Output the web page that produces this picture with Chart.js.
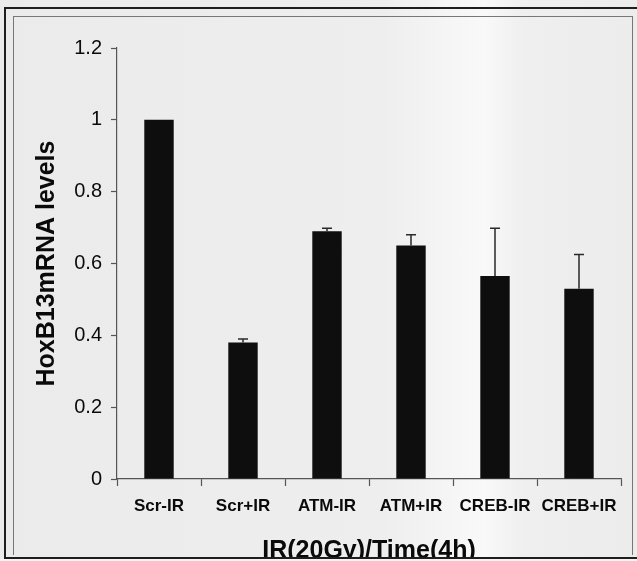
<!DOCTYPE html>
<html>
<head>
<meta charset="utf-8">
<script src="https://cdn.jsdelivr.net/npm/chart.js@4.4.1/dist/chart.umd.min.js"></script>
<style>
  html, body { margin: 0; padding: 0; }
  body {
    width: 637px; height: 561px; overflow: hidden; position: relative;
    background: linear-gradient(90deg, #ebebeb 0%, #eeeeee 60%, #f9f9f9 76%, #efefef 82%, #ececec 100%);
  }
  #wrap { position: absolute; left: 0; top: 0; width: 637px; height: 561px; }
  .frame-outer {
    position: absolute; left: 4px; top: 7px; width: 640px; height: 548px;
    border: 2px solid #1e1e1e; pointer-events: none;
  }
  .frame-inner {
    position: absolute; left: 13px; top: 16px; width: 618px; height: 538px;
    border: 1px solid #777; border-bottom: none; pointer-events: none;
  }
  .bottom-strip {
    position: absolute; left: 0; top: 559px; width: 637px; height: 2px;
    background: #f4f4f4; pointer-events: none;
  }
</style>
</head>
<body>
<div id="wrap"><canvas id="chart" width="637" height="561"></canvas></div>
<div class="frame-inner"></div>
<div class="frame-outer"></div>
<div class="bottom-strip"></div>
<script>
// HoxB13 mRNA levels after IR (20Gy, 4h)
const categories = ['Scr-IR', 'Scr+IR', 'ATM-IR', 'ATM+IR', 'CREB-IR', 'CREB+IR'];
const levels = [1.0, 0.38, 0.69, 0.65, 0.565, 0.53];
const errors = [0, 0.01, 0.008, 0.03, 0.133, 0.095];
const yTicks = [0, 0.2, 0.4, 0.6, 0.8, 1, 1.2];

const FONT = "'Liberation Sans', Arial, sans-serif";
const INK = '#0a0a0a';

// upper error bars with a short cap
const errorBarPlugin = {
  id: 'errorBars',
  afterDatasetsDraw(chart) {
    const ctx = chart.ctx;
    const meta = chart.getDatasetMeta(0);
    const y = chart.scales.y;
    ctx.save();
    ctx.strokeStyle = '#2a2a2a';
    ctx.lineWidth = 1.5;
    meta.data.forEach((bar, i) => {
      const err = errors[i];
      if (!err) return;
      const yTop = y.getPixelForValue(levels[i] + err);
      const yBar = y.getPixelForValue(levels[i]);
      ctx.beginPath();
      ctx.moveTo(bar.x, yBar);
      ctx.lineTo(bar.x, yTop);
      ctx.moveTo(bar.x - 5, yTop);
      ctx.lineTo(bar.x + 5, yTop);
      ctx.stroke();
    });
    ctx.restore();
  }
};

new Chart(document.getElementById('chart'), {
  type: 'bar',
  plugins: [errorBarPlugin],
  data: {
    labels: categories,
    datasets: [{
      data: levels,
      backgroundColor: '#0e0e0e',
      borderWidth: 0,
      barPercentage: 0.35,
      categoryPercentage: 1.0
    }]
  },
  options: {
    responsive: false,
    animation: false,
    layout: { padding: { left: 28, top: 48, right: 16, bottom: 0 } },
    plugins: { legend: { display: false }, tooltip: { enabled: false } },
    scales: {
      x: {
        afterFit: (s) => { s.height = 82; },
        grid: { drawOnChartArea: false, tickLength: 7, color: '#555', tickWidth: 1.2 },
        border: { color: '#555', width: 1.2 },
        ticks: { color: INK, padding: 10, font: { family: FONT, size: 17, weight: 'bold' }, maxRotation: 0, autoSkip: false },
        title: {
          display: true,
          text: 'IR(20Gy)/Time(4h)',
          color: INK,
          padding: { top: 0, bottom: -5 },
          font: { family: FONT, size: 25, weight: 'bold' }
        }
      },
      y: {
        min: 0,
        max: 1.2,
        afterFit: (s) => { s.width = 89; },
        afterBuildTicks: (s) => { s.ticks = yTicks.map(v => ({ value: v })); },
        grid: { drawOnChartArea: false, tickLength: 6, color: '#555', tickWidth: 1.2 },
        border: { color: '#555', width: 1.2 },
        ticks: {
          color: INK,
          padding: 9,
          font: { family: FONT, size: 20 },
          callback: (v) => String(+v.toFixed(1))
        },
        title: {
          display: true,
          text: 'HoxB13mRNA levels',
          color: INK,
          padding: { top: 4, bottom: 4 },
          font: { family: FONT, size: 25, weight: 'bold' }
        }
      }
    }
  }
});
</script>
</body>
</html>
